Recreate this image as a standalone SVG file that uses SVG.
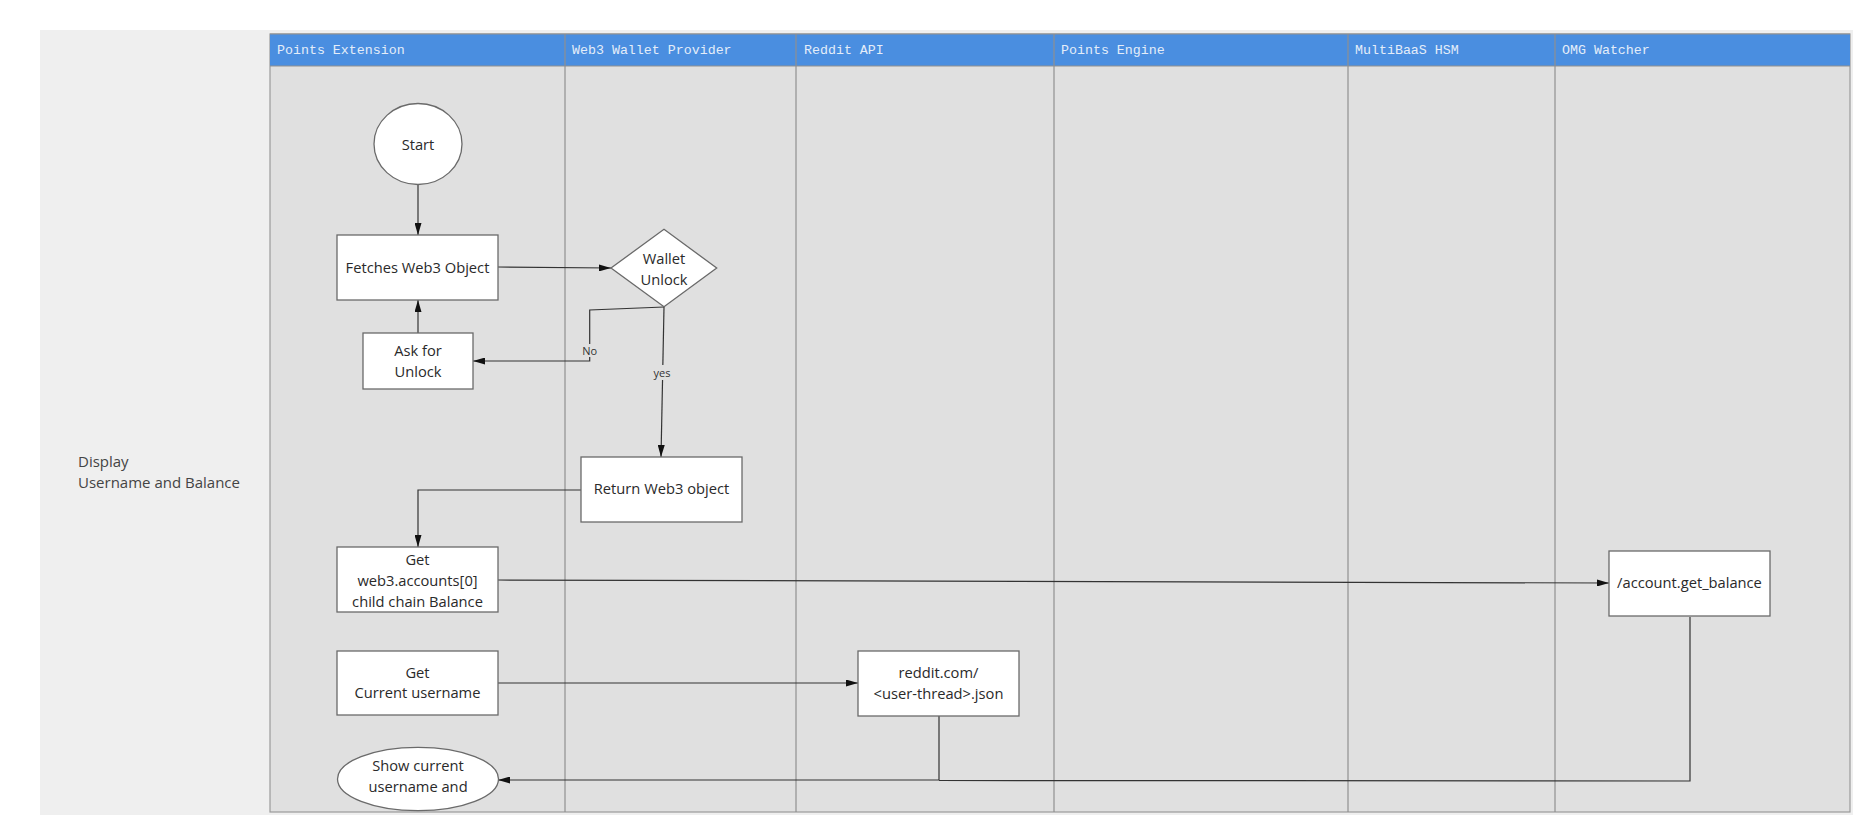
<svg xmlns="http://www.w3.org/2000/svg" width="1876" height="832" viewBox="0 0 1876 832">
<style>
  .hdr { fill: #4a8ee0; }
  .htxt { font-family: "Liberation Mono", "DejaVu Sans Mono", monospace; font-size: 13.3px; fill: #e4edf9; dominant-baseline: central; }
  .div { stroke: #8f8f8f; stroke-width: 1.2; fill: none; }
  .node { fill: #ffffff; stroke: #6a6a6a; stroke-width: 1.3; }
  .t { font-family: "Open Sans", "Liberation Sans", sans-serif; font-size: 14.7px; fill: #2a2a2a; text-anchor: middle; dominant-baseline: central; }
  .lbl { font-family: "Open Sans", "Liberation Sans", sans-serif; font-size: 11px; fill: #333333; text-anchor: middle; dominant-baseline: central; }
  .edge { stroke: #333333; stroke-width: 1.2; fill: none; }
  .side { font-family: "Open Sans", "Liberation Sans", sans-serif; font-size: 15px; fill: #444444; dominant-baseline: central; }
</style>
<defs>
  <marker id="arr" viewBox="0 0 12 7" refX="12" refY="3.5" markerWidth="12" markerHeight="7" markerUnits="userSpaceOnUse" orient="auto">
    <path d="M0,0 L12,3.5 L0,7 z" fill="#111111"/>
  </marker>
</defs>
<rect x="0" y="0" width="1876" height="832" fill="#ffffff"/>
<g id="pool">
  <rect x="40" y="30" width="1813" height="785" fill="#efefef"/>
  <rect x="270" y="34" width="1580" height="778" fill="#e0e0e0" stroke="#9a9a9a" stroke-width="1.2"/>
  <rect x="270" y="34" width="1580" height="32" class="hdr"/>
  <line x1="270" y1="66" x2="1850" y2="66" class="div"/>
  <line x1="270" y1="34" x2="1850" y2="34" class="div"/>
  <line x1="565" y1="34" x2="565" y2="812" class="div"/>
  <line x1="796" y1="34" x2="796" y2="812" class="div"/>
  <line x1="1054" y1="34" x2="1054" y2="812" class="div"/>
  <line x1="1348" y1="34" x2="1348" y2="812" class="div"/>
  <line x1="1555" y1="34" x2="1555" y2="812" class="div"/>
  <text class="htxt" x="277" y="50.5">Points Extension</text>
  <text class="htxt" x="572" y="50.5">Web3 Wallet Provider</text>
  <text class="htxt" x="804" y="50.5">Reddit API</text>
  <text class="htxt" x="1061" y="50.5">Points Engine</text>
  <text class="htxt" x="1355" y="50.5">MultiBaaS HSM</text>
  <text class="htxt" x="1562" y="50.5">OMG Watcher</text>
  <text class="side" x="78" y="461">Display</text>
  <text class="side" x="78" y="482">Username and Balance</text>
</g>
<g id="connectors">
  <line class="edge" x1="418" y1="185" x2="418" y2="235" marker-end="url(#arr)"/>
  <line class="edge" x1="498" y1="267" x2="611" y2="268" marker-end="url(#arr)"/>
  <line class="edge" x1="418" y1="333" x2="418" y2="300" marker-end="url(#arr)"/>
  <polyline class="edge" points="664,307 589.7,310 589.7,361 473,361" marker-end="url(#arr)"/>
  <line class="edge" x1="664" y1="307" x2="661" y2="457" marker-end="url(#arr)"/>
  <polyline class="edge" points="581,490 418,490 418,547" marker-end="url(#arr)"/>
  <line class="edge" x1="498" y1="580" x2="1609" y2="583" marker-end="url(#arr)"/>
  <line class="edge" x1="498" y1="683" x2="858" y2="683" marker-end="url(#arr)"/>
  <polyline class="edge" points="939,716 939,780 498,780" marker-end="url(#arr)"/>
  <polyline class="edge" points="1690,617 1690,781 939,780.5"/>
  <rect x="580" y="344" width="20" height="13" fill="#e0e0e0"/>
  <text class="lbl" x="589.7" y="350.7">No</text>
  <rect x="650" y="365" width="24" height="15" fill="#e0e0e0"/>
  <text class="lbl" x="662" y="372.7">yes</text>
</g>
<g id="start">
  <ellipse class="node" cx="418" cy="144" rx="44" ry="40.5"/>
  <text class="t" x="418" y="144">Start</text>
</g>
<g id="fetches">
  <rect class="node" x="337" y="235" width="161" height="65"/>
  <text class="t" x="417.5" y="266.7">Fetches Web3 Object</text>
</g>
<g id="wallet-unlock">
  <polygon class="node" points="611,268 664,229.3 716.7,268 664,306.7"/>
  <text class="t" x="664" y="258">Wallet</text>
  <text class="t" x="664" y="279">Unlock</text>
</g>
<g id="ask-unlock">
  <rect class="node" x="363" y="333" width="110" height="56"/>
  <text class="t" x="418" y="350">Ask for</text>
  <text class="t" x="418" y="370.7">Unlock</text>
</g>
<g id="return-web3">
  <rect class="node" x="581" y="457" width="161" height="65"/>
  <text class="t" x="661.5" y="488.3">Return Web3 object</text>
</g>
<g id="get-balance">
  <rect class="node" x="337" y="547" width="161" height="65"/>
  <text class="t" x="417.5" y="559.3">Get</text>
  <text class="t" x="417.5" y="580">web3.accounts[0]</text>
  <text class="t" x="417.5" y="600.7">child chain Balance</text>
</g>
<g id="get-username">
  <rect class="node" x="337" y="651" width="161" height="64"/>
  <text class="t" x="417.5" y="671.7">Get</text>
  <text class="t" x="417.5" y="692.3">Current username</text>
</g>
<g id="show-current">
  <ellipse class="node" cx="418" cy="779" rx="80.5" ry="31.7"/>
  <text class="t" x="418" y="765">Show current</text>
  <text class="t" x="418" y="785.7">username and</text>
</g>
<g id="reddit-json">
  <rect class="node" x="858" y="651" width="161" height="65"/>
  <text class="t" x="938.5" y="672">reddit.com/</text>
  <text class="t" x="938.5" y="692.7">&lt;user-thread&gt;.json</text>
</g>
<g id="account-balance">
  <rect class="node" x="1609" y="551" width="161" height="65"/>
  <text class="t" x="1689.5" y="582.3">/account.get_balance</text>
</g>
</svg>
